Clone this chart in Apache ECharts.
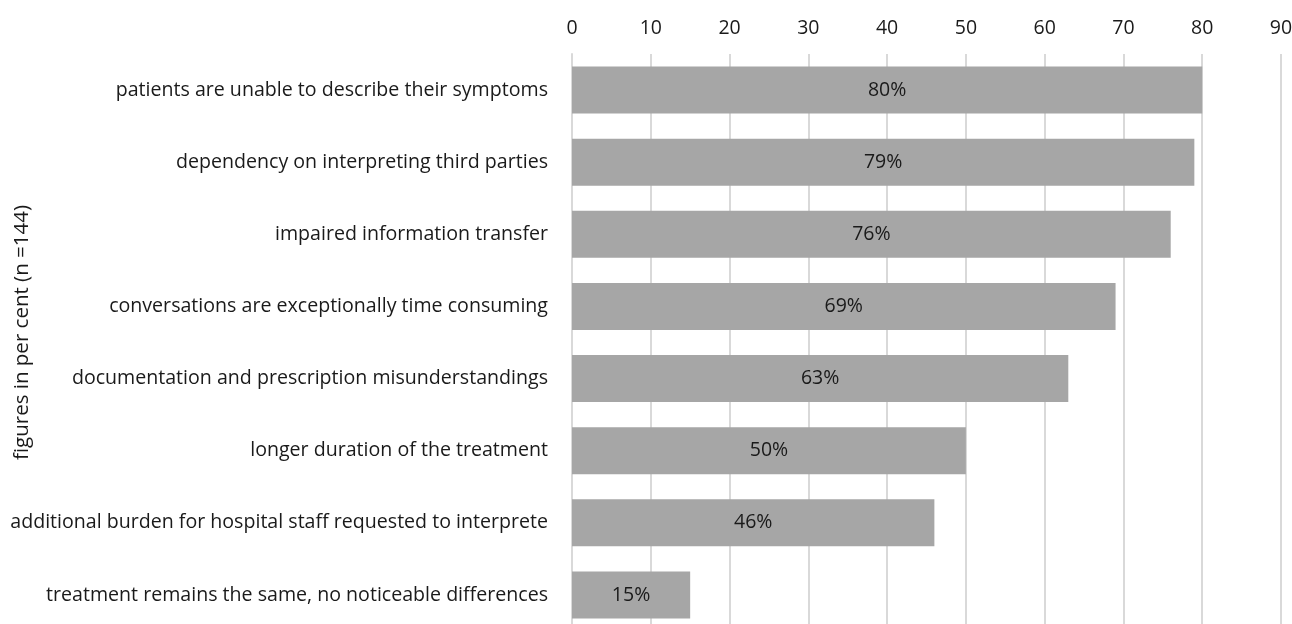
<!DOCTYPE html>
<html>
<head>
<meta charset="utf-8">
<script src="https://cdn.jsdelivr.net/npm/echarts@6/dist/echarts.min.js"></script>
<style>
  html, body { margin: 0; padding: 0; background: #fff; }
  #chart { width: 1292px; height: 624px; }
</style>
</head>
<body>
<div id="chart"></div>
<script>
// Reasons given, listed top to bottom
const categories = [
  'patients are unable to describe their symptoms',
  'dependency on interpreting third parties',
  'impaired information transfer',
  'conversations are exceptionally time consuming',
  'documentation and prescription misunderstandings',
  'longer duration of the treatment',
  'additional burden for hospital staff requested to interprete',
  'treatment remains the same, no noticeable differences'
];
// Share of respondents, per cent
const values = [80, 79, 76, 69, 63, 50, 46, 15];
const axisTicks = [0, 10, 20, 30, 40, 50, 60, 70, 80, 90];

const font = '"Open Sans", "Noto Sans", sans-serif';
const textColor = '#1a1a1a';
const chart = echarts.init(document.getElementById('chart'));
chart.setOption({
  animation: false,
  grid: { left: 572, right: 11, top: 54, height: 577, containLabel: false, outerBoundsMode: 'none' },
  xAxis: {
    type: 'value',
    position: 'top',
    min: axisTicks[0],
    max: axisTicks[axisTicks.length - 1],
    interval: axisTicks[1] - axisTicks[0],
    axisLine: { show: false },
    axisTick: { show: false },
    axisLabel: { color: textColor, fontSize: 19.5, fontFamily: font, margin: 16 },
    splitLine: { show: true, lineStyle: { color: '#d9d9d9', width: 2 } }
  },
  yAxis: {
    type: 'category',
    inverse: true,
    data: categories,
    name: 'figures in per cent (n =144)',
    nameLocation: 'middle',
    nameGap: 539,
    nameRotate: 90,
    nameMoveOverlap: false,
    nameTextStyle: { color: textColor, fontSize: 20.5, fontFamily: font, padding: [0, 0, 0, 20] },
    axisLine: { show: true, lineStyle: { color: '#d9d9d9', width: 2 } },
    axisTick: { show: false },
    axisLabel: { color: textColor, fontSize: 19.6, fontFamily: font, margin: 24 }
  },
  series: [{
    type: 'bar',
    data: values,
    barWidth: '65%',
    itemStyle: { color: '#a6a6a6' },
    label: {
      show: true,
      position: 'inside',
      formatter: p => p.value + '%',
      color: textColor,
      fontSize: 19.5,
      fontFamily: font
    }
  }]
});
</script>
</body>
</html>
